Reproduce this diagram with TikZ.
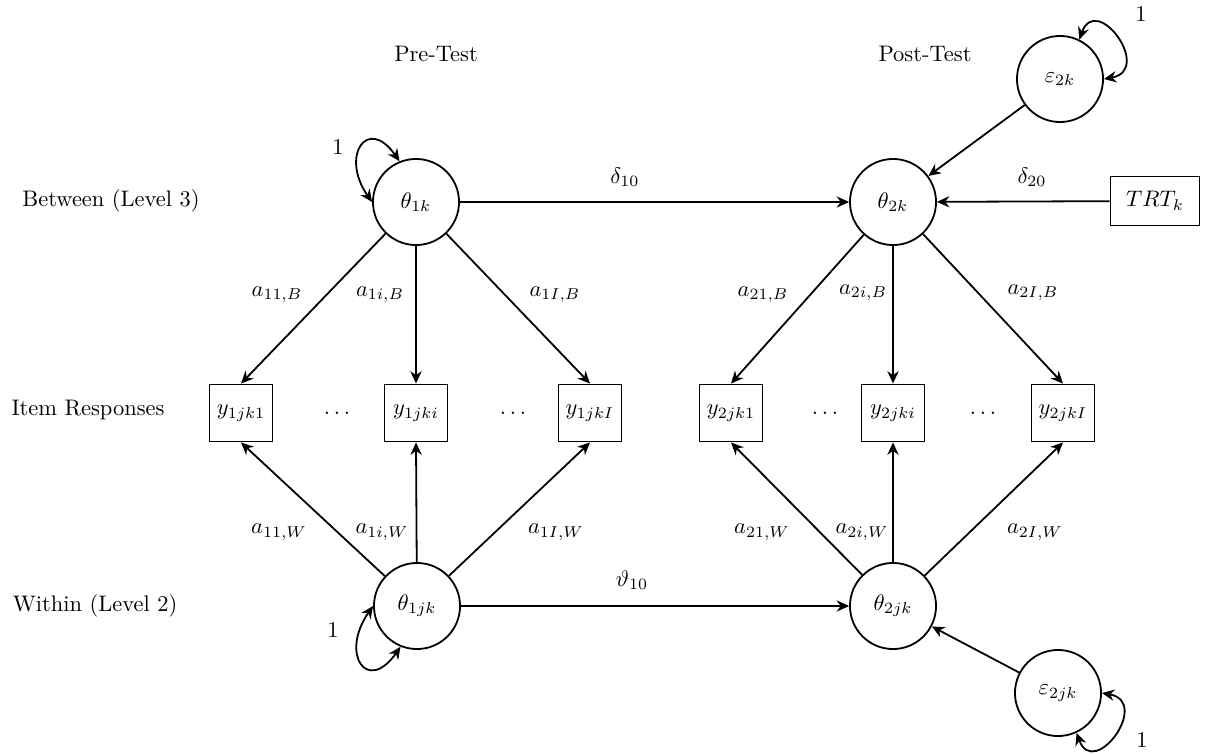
\documentclass[tikz,border=0pt]{standalone}
\usetikzlibrary{arrows.meta}
\begin{document}
\begin{tikzpicture}[x=0.445pt,y=0.445pt,
  lat/.style={circle,draw,line width=0.8pt,minimum size=38.3pt,inner sep=0pt},
  obs/.style={rectangle,draw,line width=0.8pt,minimum width=28pt,minimum height=25.4pt,inner sep=1pt},
  arr/.style={-{Stealth[length=5.5pt,width=5pt]},line width=0.8pt},
  dbl/.style={{Stealth[length=5.5pt,width=5pt]}-{Stealth[length=5.5pt,width=5pt]},line width=0.8pt},
  lbl/.style={inner sep=0pt}]
\useasboundingbox (0,0) rectangle (1208,-753);
% headers
\node[lbl] (pre) at (436,-54) {Pre-Test};
\node[lbl] (post) at (925,-54) {Post-Test};
\node[lbl] (between) at (111,-201) {Between (Level 3)};
\node[lbl] (items) at (88,-410) {Item Responses};
\node[lbl] (within) at (95,-606) {Within (Level 2)};
% latent nodes
\node[lat] (t1k) at (416,-202) {$\theta_{1k}$};
\node[lat] (t2k) at (893,-202) {$\theta_{2k}$};
\node[lat] (t1jk) at (417,-606) {$\theta_{1jk}$};
\node[lat] (t2jk) at (893,-606) {$\theta_{2jk}$};
\node[lat] (e2k) at (1060,-79) {$\varepsilon_{2k}$};
\node[lat] (e2jk) at (1058,-693) {$\varepsilon_{2jk}$};
\node[obs,minimum width=39.6pt,minimum height=21.8pt] (trt) at (1155,-201) {$TRT_k$};
% observed
\node[obs] (y11) at (241,-413) {$y_{1jk1}$};
\node[obs] (y1i) at (416,-413) {$y_{1jki}$};
\node[obs] (y1I) at (590,-413) {$y_{1jkI}$};
\node[obs] (y21) at (731,-413) {$y_{2jk1}$};
\node[obs] (y2i) at (893,-413) {$y_{2jki}$};
\node[obs] (y2I) at (1063,-413) {$y_{2jkI}$};
\node[lbl] (d1) at (337,-413) {$\ldots$};
\node[lbl] (d2) at (513,-413) {$\ldots$};
\node[lbl] (d3) at (825,-413) {$\ldots$};
\node[lbl] (d4) at (983,-413) {$\ldots$};
% structural paths
\draw[arr] (t1k) -- (t2k);
\draw[arr] (trt) -- (t2k);
\draw[arr] (e2k) -- (t2k);
\draw[arr] (t1jk) -- (t2jk);
\draw[arr] (e2jk) -- (t2jk);
% loadings between
\draw[arr] (t1k) -- (y11.north);
\draw[arr] (t1k) -- (y1i.north);
\draw[arr] (t1k) -- (y1I.north);
\draw[arr] (t2k) -- (y21.north);
\draw[arr] (t2k) -- (y2i.north);
\draw[arr] (t2k) -- (y2I.north);
% loadings within
\draw[arr] (t1jk) -- (y11.south);
\draw[arr] (t1jk) -- (y1i.south);
\draw[arr] (t1jk) -- (y1I.south);
\draw[arr] (t2jk) -- (y21.south);
\draw[arr] (t2jk) -- (y2i.south);
\draw[arr] (t2jk) -- (y2I.south);
% variance loops
\draw[dbl] (t1k.180) to[out=125,in=125,distance=25pt] (t1k.112);
\draw[dbl] (e2k.64) to[out=70,in=10,distance=22.5pt] (e2k.0);
\draw[dbl] (t1jk.180) to[out=235,in=235,distance=26pt] (t1jk.248);
\draw[dbl] (e2jk.295) to[out=290,in=350,distance=22.5pt] (e2jk.0);
\node[lbl] (v1) at (338,-147) {1};
\node[lbl] (v2) at (1141,-14) {1};
\node[lbl] (v3) at (333,-630) {1};
\node[lbl] (v4) at (1142,-740) {1};
% labels
\node[lbl] (ld10) at (625,-177) {$\delta_{10}$};
\node[lbl] (ld20) at (1032,-177) {$\delta_{20}$};
\node[lbl] (lv10) at (632,-580) {$\vartheta_{10}$};
\node[lbl] (l11B) at (277,-295) {$a_{11,B}$};
\node[lbl] (l1iB) at (380,-295) {$a_{1i,B}$};
\node[lbl] (l1IB) at (555,-295) {$a_{1I,B}$};
\node[lbl] (l11W) at (279,-532) {$a_{11,W}$};
\node[lbl] (l1iW) at (382,-532) {$a_{1i,W}$};
\node[lbl] (l1IW) at (556,-532) {$a_{1I,W}$};
\node[lbl] (l21B) at (763,-295) {$a_{21,B}$};
\node[lbl] (l2iB) at (863,-293) {$a_{2i,B}$};
\node[lbl] (l2IB) at (1033,-293) {$a_{2I,B}$};
\node[lbl] (l21W) at (762,-532) {$a_{21,W}$};
\node[lbl] (l2iW) at (862,-532) {$a_{2i,W}$};
\node[lbl] (l2IW) at (1035,-532) {$a_{2I,W}$};
\end{tikzpicture}
\end{document}
